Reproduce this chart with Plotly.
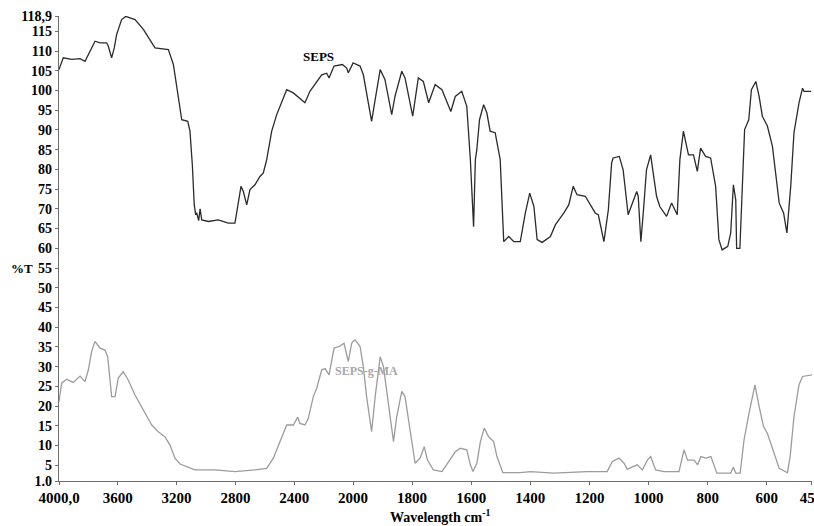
import plotly.graph_objects as go

# ---- data ----
seps_wn = [4000, 3990, 3971, 3914, 3857, 3823, 3800, 3755, 3721, 3676, 3665, 3642, 3624, 3608, 3574, 3546,
           3483, 3426, 3347, 3256, 3222, 3188, 3165, 3124, 3109, 3093, 3080, 3070, 3063, 3050, 3040, 3029,
           2984, 2916, 2848, 2803, 2784, 2762, 2746, 2723, 2701, 2667, 2633, 2610, 2587, 2553, 2519, 2485,
           2451, 2406, 2361, 2327, 2293, 2247, 2213, 2179, 2163, 2129, 2072, 2043, 2032, 1999, 1976, 1965,
           1954, 1937, 1925, 1908, 1892, 1869, 1858, 1835, 1824, 1798, 1779, 1762, 1744, 1722, 1699, 1669,
           1654, 1632, 1615, 1603, 1592, 1586, 1581, 1572, 1558, 1547, 1536, 1519, 1502, 1490, 1473, 1456,
           1434, 1417, 1402, 1388, 1377, 1360, 1332, 1315, 1287, 1270, 1255, 1242, 1214, 1197, 1180, 1170,
           1151, 1136, 1125, 1120, 1099, 1086, 1069, 1057, 1040, 1035, 1026, 1018, 1007, 993, 984, 973,
           962, 939, 922, 903, 894, 882, 865, 848, 835, 824, 807, 790, 773, 762, 751, 732,
           722, 713, 705, 702, 691, 683, 675, 661, 652, 637, 626, 615, 598, 581, 570, 558,
           543, 532, 519, 508, 491, 479, 474, 450]
seps_t = [105.3, 106.5, 108.3, 107.9, 108.1, 107.4, 109.1, 112.5, 112.1, 112.1, 111.3, 108.3, 110.8, 114.2, 118.0, 118.8,
          118.0, 115.5, 110.8, 110.4, 106.6, 98.1, 92.6, 92.2, 89.7, 81.2, 71.0, 68.5, 69.0, 67.0, 70.0, 67.2,
          66.8, 67.2, 66.4, 66.4, 71.0, 75.7, 74.4, 71.0, 74.9, 76.1, 78.2, 79.1, 82.5, 89.7, 93.9, 97.3,
          100.2, 99.4, 98.1, 96.9, 99.8, 102.3, 104.0, 104.4, 103.2, 106.2, 106.6, 105.7, 104.5, 107.0, 106.2, 104.0,
          99.4, 92.2, 97.7, 105.3, 102.8, 93.9, 98.5, 104.9, 103.2, 93.5, 103.2, 102.3, 96.9, 101.5, 100.2, 94.7,
          98.5, 99.8, 96.0, 82.5, 65.5, 82.5, 85.0, 92.6, 96.4, 94.3, 89.7, 89.3, 82.5, 61.7, 63.0, 61.7,
          61.7, 68.9, 74.0, 70.6, 62.2, 61.5, 63.0, 66.0, 68.9, 71.0, 75.7, 73.6, 73.2, 71.0, 68.9, 68.5,
          61.7, 69.8, 81.6, 82.9, 83.3, 79.9, 68.5, 71.0, 74.4, 73.2, 61.7, 68.9, 79.9, 83.7, 79.1, 73.2,
          70.6, 68.1, 71.5, 68.5, 82.5, 89.7, 83.7, 83.7, 79.5, 85.4, 83.3, 82.9, 75.7, 62.2, 59.6, 60.5,
          63.9, 76.1, 72.3, 60.0, 60.0, 75.7, 90.1, 92.6, 100.2, 102.3, 98.5, 93.5, 91.0, 85.9, 78.2, 71.5,
          68.9, 63.9, 75.7, 89.3, 96.9, 100.6, 99.8, 99.8]

ma_wn = [4000, 3982, 3948, 3903, 3857, 3823, 3800, 3778, 3755, 3721, 3687, 3669, 3653, 3642, 3619, 3597,
         3563, 3529, 3483, 3426, 3369, 3325, 3279, 3245, 3211, 3177, 3131, 3075, 2939, 2803, 2667, 2587,
         2542, 2497, 2451, 2406, 2376, 2361, 2327, 2304, 2270, 2247, 2213, 2190, 2163, 2129, 2095, 2061,
         2032, 2009, 1993, 1976, 1965, 1954, 1937, 1925, 1908, 1897, 1880, 1863, 1852, 1835, 1824, 1807,
         1790, 1773, 1759, 1748, 1728, 1699, 1677, 1654, 1637, 1615, 1603, 1594, 1581, 1569, 1556, 1541,
         1524, 1513, 1493, 1434, 1400, 1321, 1208, 1140, 1123, 1100, 1083, 1072, 1038, 1021, 1004, 993,
         976, 948, 897, 889, 880, 868, 846, 834, 823, 806, 789, 769, 722, 713, 705, 690,
         677, 660, 640, 626, 611, 598, 575, 558, 530, 521, 508, 491, 479, 446]
ma_t = [21.1, 25.8, 26.8, 26.0, 27.6, 26.2, 29.2, 33.8, 36.4, 34.7, 34.2, 32.5, 26.6, 22.4, 22.4, 27.1,
        28.7, 26.6, 22.8, 19.0, 15.2, 13.5, 12.2, 10.1, 6.8, 5.3, 4.6, 3.8, 3.8, 3.4, 3.8, 4.2,
        6.8, 11.0, 15.2, 15.2, 17.2, 15.6, 15.2, 16.9, 22.4, 24.5, 29.2, 29.5, 27.9, 34.7, 35.1, 35.9,
        31.3, 35.9, 36.8, 35.1, 30.0, 22.4, 13.5, 22.4, 32.5, 30.0, 19.9, 11.0, 17.3, 23.7, 22.4, 14.0,
        5.5, 6.8, 9.7, 6.3, 3.8, 3.4, 5.9, 8.4, 9.3, 8.9, 5.1, 3.4, 5.5, 11.0, 14.4, 12.2,
        11.0, 7.2, 3.1, 3.1, 3.4, 3.0, 3.4, 3.4, 5.9, 6.8, 5.5, 4.0, 5.1, 3.8, 6.3, 7.2,
        3.8, 3.4, 3.4, 5.9, 8.9, 6.3, 6.3, 5.1, 7.2, 6.8, 7.2, 3.0, 3.0, 4.5, 3.0, 3.0,
        11.4, 18.2, 25.4, 19.9, 14.8, 13.1, 8.0, 4.2, 3.1, 7.2, 17.3, 25.4, 27.5, 27.9]

x_ticks_hi = [4000, 3600, 3200, 2800, 2400, 2000]
x_text_hi = ["4000,0", "3600", "3200", "2800", "2400", "2000"]
x_ticks_lo = [1800, 1600, 1400, 1200, 1000, 800, 600, 450]
x_text_lo = ["1800", "1600", "1400", "1200", "1000", "800", "600", "450"]
y_ticks = [1.0, 5, 10, 15, 20, 25, 30, 35, 40, 45, 50, 55, 60, 65, 70, 75, 80, 85, 90, 95,
           100, 105, 110, 115, 118.9]
y_text = ["1.0"] + [str(v) for v in y_ticks[1:-1]] + ["118,9"]

# ---- figure ----
serif = "Liberation Serif, Times New Roman, serif"
c_top = "#2b2b2b"
c_bot = "#9c9c9c"
axis_col = "#6e6e6e"

fig = go.Figure()
for xa in ["x", "x2"]:
    fig.add_trace(go.Scatter(x=seps_wn, y=seps_t, mode="lines", xaxis=xa, yaxis="y",
                             line=dict(color=c_top, width=1.3), showlegend=False, hoverinfo="skip"))
    fig.add_trace(go.Scatter(x=ma_wn, y=ma_t, mode="lines", xaxis=xa, yaxis="y",
                             line=dict(color=c_bot, width=1.3), showlegend=False, hoverinfo="skip"))

split = 294 / 753
tickfont_x = dict(family=serif, size=15, color="black", weight="bold")
tickfont_y = dict(family=serif, size=14, color="black", weight="bold")

common = dict(showgrid=False, zeroline=False, showline=True, linecolor=axis_col, linewidth=1.2,
              ticks="outside", ticklen=3, tickcolor=axis_col, automargin=False,
              ticklabeloverflow="allow")

fig.update_layout(
    width=814, height=526,
    margin=dict(l=59, r=2, t=16, b=45, autoexpand=False),
    paper_bgcolor="white", plot_bgcolor="white",
    xaxis=dict(domain=[0, split], range=[4000, 2000], anchor="y",
               tickvals=x_ticks_hi, ticktext=x_text_hi, tickfont=tickfont_x, **common),
    xaxis2=dict(domain=[split, 1], range=[2000, 447], anchor="y",
                tickvals=x_ticks_lo, ticktext=x_text_lo, tickfont=tickfont_x, **common),
    yaxis=dict(range=[1.0, 118.9], tickvals=y_ticks, ticktext=y_text, tickfont=tickfont_y, **common),
)

fig.add_annotation(xref="paper", yref="paper", x=-0.066, xanchor="left", y=0.458, text="%T",
                   showarrow=False, font=dict(family=serif, size=13, color="black", weight="bold"))
fig.add_annotation(xref="paper", yref="paper", x=0.506, y=-0.075, yanchor="middle",
                   text="Wavelength cm<sup>-1</sup>", showarrow=False,
                   font=dict(family=serif, size=14, color="black", weight="bold"))
fig.add_annotation(xref="paper", yref="paper", x=0.345, y=0.933, text="SEPS", showarrow=False,
                   font=dict(family=serif, size=13, color="black", weight="bold"))
fig.add_annotation(xref="paper", yref="paper", x=0.409, y=0.217, text="SEPS-g-MA", showarrow=False,
                   font=dict(family=serif, size=12, color="#a8a8a8", weight="bold"))

fig.write_html("out.html", config={"displayModeBar": False},
               post_script="document.body.style.margin='0';document.body.style.padding='0';")
